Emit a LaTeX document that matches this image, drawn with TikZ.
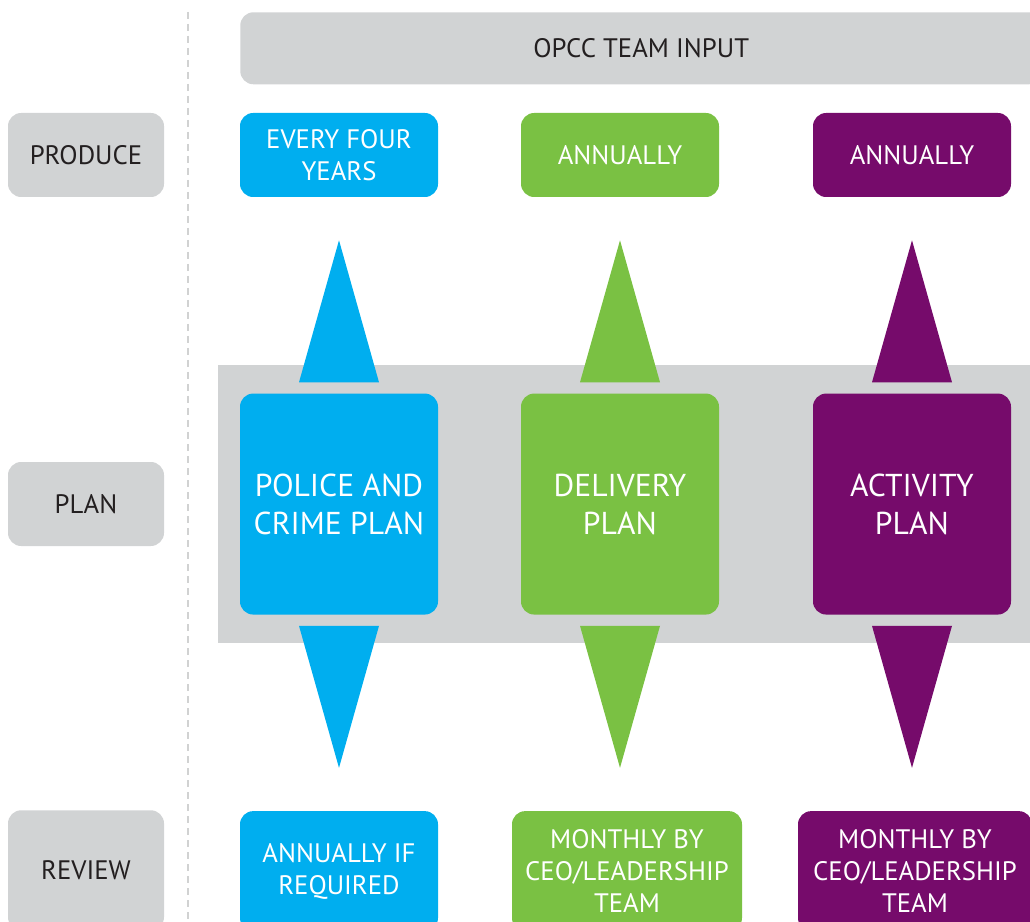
\documentclass[tikz,border=0pt]{standalone}
\usepackage{fontspec}
\setmainfont{PT Sans}
\usepackage{tikz}
\usetikzlibrary{positioning,calc}
\definecolor{opblue}{HTML}{00AEEF}
\definecolor{opgreen}{HTML}{7AC143}
\definecolor{oppurple}{HTML}{760B6B}
\definecolor{opgray}{HTML}{D1D3D4}
\definecolor{optext}{HTML}{231F20}
\def\px{0.25mm}
\tikzset{
  figfont/.style={font=\fontsize{19}{23}\selectfont},
  figbigfont/.style={font=\fontsize{22.5}{27}\selectfont},
  figbox/.style={rounded corners=3.3mm, align=center, inner sep=0pt, text=white,
    minimum width=198*\px, minimum height=84*\px},
  figboxgray/.style={figbox, fill=opgray, text=optext, minimum width=156*\px},
  figplanbox/.style={figbox, figbigfont, minimum height=221*\px},
  figrevbox/.style={figbox, minimum height=120*\px},
  figdash/.style={draw=opgray!85!black!60, line width=2.5*\px, dash pattern=on 7*\px off 5*\px},
}

\begin{document}
\begin{tikzpicture}[figfont, x=\px, y=-\px]
  \useasboundingbox (0,0) rectangle (1030,922);
  \clip (0,0) rectangle (1030,922);

  % Background band and input bar
  \node[fill=opgray, inner sep=0pt, minimum width=830*\px, minimum height=278*\px,
    anchor=north west] (band) at (218,365) {};
  \node[figbox, fill=opgray, text=optext, minimum width=802*\px, minimum height=72*\px,
    anchor=north west] (input) at (240,12) {OPCC TEAM INPUT};

  % Row labels
  \node[figboxgray] (prod) at (86,155) {PRODUCE};
  \node[figboxgray] (plan) at (86,504) {PLAN};
  \node[figboxgray, minimum height=120*\px, anchor=north] (rev) at (86,810) {REVIEW};
  \draw[figdash] (188,12) -- (188,922);

  % Produce row
  \node[figbox, fill=opblue] (fpcp) at (339,155) {EVERY FOUR\\YEARS};
  \node[figbox, fill=opgreen] (fdp) at (620,155) {ANNUALLY};
  \node[figbox, fill=oppurple] (fap) at (912,155) {ANNUALLY};

  % Plan row
  \node[figplanbox, fill=opblue, below=49mm of fpcp] (pcp) {POLICE AND\\CRIME PLAN};
  \node[figplanbox, fill=opgreen, below=49mm of fdp] (dp) {DELIVERY\\PLAN};
  \node[figplanbox, fill=oppurple, below=49mm of fap] (ap) {ACTIVITY\\PLAN};

  % Review row
  \node[figrevbox, fill=opblue, below=49mm of pcp] (rpcp) {ANNUALLY IF\\REQUIRED};
  \node[figrevbox, fill=opgreen, below=49mm of dp, xshift=7*\px, minimum width=230*\px] (rdp)
    {MONTHLY BY\\CEO/LEADERSHIP\\TEAM};
  \node[figrevbox, fill=oppurple, below=49mm of ap, xshift=3*\px, minimum width=234*\px] (rap)
    {MONTHLY BY\\CEO/LEADERSHIP\\TEAM};

  % Up and down pointers
  \foreach \c/\col in {pcp/opblue, dp/opgreen, ap/oppurple} {
    \fill[\col] ($(f\c.south)+(0,43)$) -- ($(\c.north)+(40,-11)$) -- ($(\c.north)+(-40,-11)$) -- cycle;
    \fill[\col] ($(\c.south)+(-40,11)$) -- ($(\c.south)+(40,11)$) -- ($(\c.south)+(0,153)$) -- cycle;
  }
\end{tikzpicture}
\end{document}
